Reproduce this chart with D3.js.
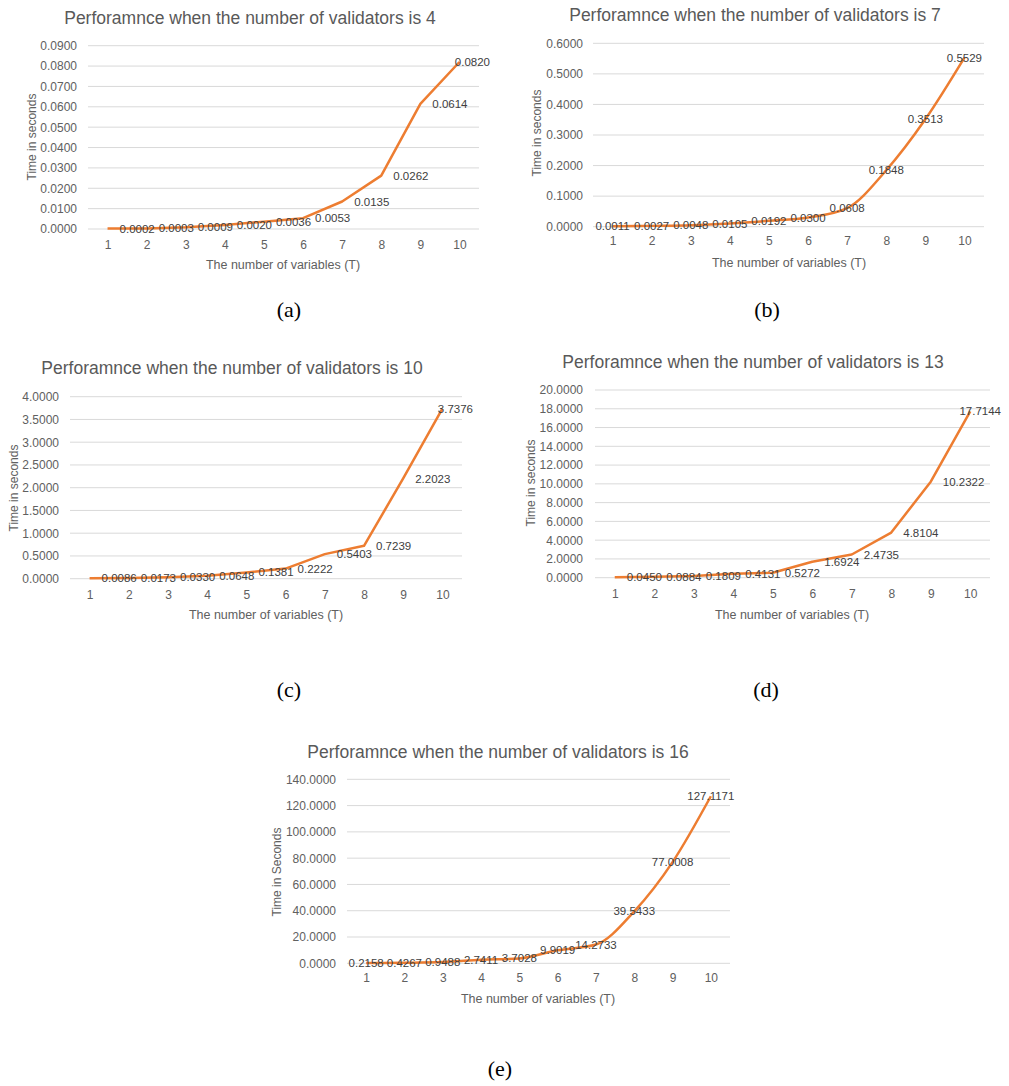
<!DOCTYPE html>
<html>
<head>
<meta charset="utf-8">
<script src="https://cdn.jsdelivr.net/npm/d3@7/dist/d3.min.js"></script>
<style>
  body { margin: 0; background: #fff; }
  svg { display: block; }
  text { font-family: "Liberation Sans", Arial, sans-serif; }
</style>
</head>
<body>
<div id="figure"></div>
<script>
"use strict";

// categories (number of variables T)
var variables = [1, 2, 3, 4, 5, 6, 7, 8, 9, 10];

// titles of the five panels
var titles = [
  "Perforamnce when the number of validators is 4",
  "Perforamnce when the number of validators is 7",
  "Perforamnce when the number of validators is 10",
  "Perforamnce when the number of validators is 13",
  "Perforamnce when the number of validators is 16"
];
var captions = ["(a)", "(b)", "(c)", "(d)", "(e)"];
var yTitles = ["Time in seconds", "Time in seconds", "Time in seconds", "Time in seconds", "Time in Seconds"];

// series values (time in seconds)
var valuesA = [0.0002, 0.0003, 0.0009, 0.0020, 0.0036, 0.0053, 0.0135, 0.0262, 0.0614, 0.0820];
var valuesB = [0.0011, 0.0027, 0.0048, 0.0105, 0.0192, 0.0300, 0.0608, 0.1848, 0.3513, 0.5529];
var valuesC = [0.0086, 0.0173, 0.0330, 0.0648, 0.1381, 0.2222, 0.5403, 0.7239, 2.2023, 3.7376];
var valuesD = [0.0450, 0.0884, 0.1809, 0.4131, 0.5272, 1.6924, 2.4735, 4.8104, 10.2322, 17.7144];
var valuesE = [0.2158, 0.4267, 0.9488, 2.7411, 3.7028, 9.9019, 14.2733, 39.5433, 77.0008, 127.1171];

// y axis tick labels
var ticksA = [0, 0.01, 0.02, 0.03, 0.04, 0.05, 0.06, 0.07, 0.08, 0.09];
var ticksB = [0, 0.1, 0.2, 0.3, 0.4, 0.5, 0.6];
var ticksC = [0, 0.5, 1, 1.5, 2, 2.5, 3, 3.5, 4];
var ticksD = [0, 2, 4, 6, 8, 10, 12, 14, 16, 18, 20];
var ticksE = [0, 20, 40, 60, 80, 100, 120, 140];

var allValues = [valuesA, valuesB, valuesC, valuesD, valuesE];
var allTicks = [ticksA, ticksB, ticksC, ticksD, ticksE];

// layout of each panel on the page
var layouts = [
  {gl: 88,  gr: 479, y0: 229,   y1: 45.7,  tx: 250, ty: 18,  ax: 283, ay: 265, yx: 32,  yy: 137, lr: 77,  xt: 246, cx: 289, cy: 317, label: "right", clip: 490, curve: false},
  {gl: 593, gr: 984, y0: 226.7, y1: 43.3,  tx: 755, ty: 15,  ax: 789, ay: 263, yx: 537, yy: 133, lr: 583, xt: 242, cx: 767, cy: 317, label: "center", clip: 1005, curve: true},
  {gl: 70,  gr: 462, y0: 578.7, y1: 396.7, tx: 232, ty: 368, ax: 266, ay: 615, yx: 14,  yy: 488, lr: 59,  xt: 596, cx: 289, cy: 697, label: "right", clip: 473, curve: false},
  {gl: 595, gr: 990, y0: 577.7, y1: 390,   tx: 753, ty: 362, ax: 792, ay: 615, yx: 531, yy: 483, lr: 583, xt: 595, cx: 766, cy: 697, label: "right", clip: 1001, curve: false},
  {gl: 347, gr: 730, y0: 963.3, y1: 779.3, tx: 498, ty: 752, ax: 538, ay: 999, yx: 277, yy: 872, lr: 336, xt: 979, cx: 500, cy: 1076, label: "center", clip: 1005, curve: true}
];

var svg = d3.select("#figure")
  .append("svg")
    .attr("width", 1009)
    .attr("height", 1086);

var fmt = d3.format(".4f");

layouts.forEach(function(L, i) {
  var values = allValues[i];
  var ticks = allTicks[i];
  var data = variables.map(function(v, j) { return {t: v, value: values[j]}; });

  var x = d3.scalePoint()
    .domain(variables)
    .range([L.gl, L.gr])
    .padding(0.5);

  var y = d3.scaleLinear()
    .domain([0, d3.max(ticks)])
    .range([L.y0, L.y1]);

  var g = svg.append("g");

  // title
  g.append("text")
    .attr("x", L.tx)
    .attr("y", L.ty)
    .attr("dy", "0.35em")
    .attr("text-anchor", "middle")
    .style("font-size", "17.5px")
    .style("fill", "#595959")
    .text(titles[i]);

  // grid lines
  g.selectAll(".grid")
    .data(ticks)
    .enter()
    .append("line")
      .attr("x1", L.gl)
      .attr("x2", L.gr)
      .attr("y1", function(d) { return y(d); })
      .attr("y2", function(d) { return y(d); })
      .style("stroke", "#d9d9d9")
      .style("stroke-width", 1);

  // y axis labels
  var yAxis = d3.axisLeft(y).tickValues(ticks).tickFormat(fmt).tickSize(0).tickPadding(0);
  g.append("g")
    .attr("transform", "translate(" + L.lr + ",0)")
    .call(yAxis)
    .call(function(s) { s.select(".domain").remove(); })
    .selectAll("text")
      .style("font-family", "Liberation Sans, Arial, sans-serif")
      .style("font-size", "12px")
      .style("fill", "#606060");

  // x axis labels
  var xAxis = d3.axisBottom(x).tickSize(0).tickPadding(0);
  g.append("g")
    .attr("transform", "translate(0," + (L.xt - 6) + ")")
    .call(xAxis)
    .call(function(s) { s.select(".domain").remove(); })
    .selectAll("text")
      .style("font-family", "Liberation Sans, Arial, sans-serif")
      .style("font-size", "12px")
      .style("fill", "#606060");

  // axis titles
  g.append("text")
    .attr("x", L.ax)
    .attr("y", L.ay)
    .attr("dy", "0.35em")
    .attr("text-anchor", "middle")
    .style("font-size", "12.5px")
    .style("fill", "#606060")
    .text("The number of variables (T)");

  g.append("text")
    .attr("transform", "translate(" + L.yx + "," + L.yy + ") rotate(-90)")
    .attr("dy", "0.35em")
    .attr("text-anchor", "middle")
    .style("font-size", "12px")
    .style("fill", "#606060")
    .text(yTitles[i]);

  // the line
  var line = d3.line()
    .x(function(d) { return x(d.t); })
    .y(function(d) { return y(d.value); })
    .curve(L.curve ? d3.curveMonotoneX : d3.curveLinear);

  g.append("path")
    .datum(data)
    .attr("d", line)
    .style("fill", "none")
    .style("stroke", "#ED7D31")
    .style("stroke-width", 2.5)
    .style("stroke-linejoin", "round");

  // data labels
  var labels = g.selectAll(".lbl")
    .data(data)
    .enter()
    .append("text")
      .attr("y", function(d) { return y(d.value); })
      .attr("dy", "0.35em")
      .attr("text-anchor", L.label == "center" ? "middle" : "start")
      .style("font-size", "11.5px")
      .style("fill", "#404040")
      .text(function(d) { return fmt(d.value); });

  labels.attr("x", function(d) {
    if (L.label == "center") return x(d.t);
    var w = this.getComputedTextLength();
    return Math.min(x(d.t) + 12, L.clip - w);
  });

  // caption below the panel
  svg.append("text")
    .attr("x", L.cx)
    .attr("y", L.cy)
    .attr("text-anchor", "middle")
    .style("font-family", "Liberation Serif, Times New Roman, serif")
    .style("font-size", "22px")
    .style("fill", "#000")
    .text(captions[i]);
});
</script>
</body>
</html>
